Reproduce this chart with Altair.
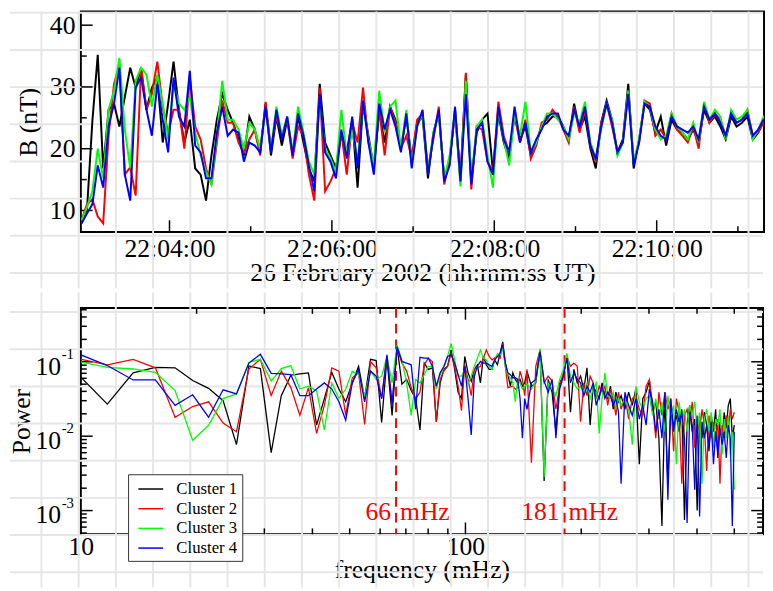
import altair as alt
import pandas as pd

FONT = "Liberation Serif"
GRID = "#e6e6e6"

series_names = ["Cluster 1", "Cluster 2", "Cluster 3", "Cluster 4"]
series_colors = ["#000000", "#ff0000", "#00ff00", "#0000ff"]

# ---------------- top panel: |B| (nT), one sample every 4 s from 22:02:55 UT
t_first = 175   # seconds after 22:00:00
t_step = 4
b_c1 = [8.4, 10.0, 24.4, 35.2, 16.8, 26.3, 27.3, 23.6, 28.4, 33.1, 29.9, 33.1, 26.3, 29.9, 31.5, 21.0, 27.3, 34.1, 26.3, 21.0, 24.7, 16.8, 15.8, 11.6, 18.9, 24.7, 28.9, 26.3, 24.2, 21.5, 18.9, 25.2, 23.1,
        19.4, 27.3, 18.9, 25.2, 20.5, 24.7, 19.4, 25.2, 21.0, 16.8, 14.7, 30.5, 21.0, 18.9, 16.8, 22.6, 19.4, 24.7, 13.7, 27.3, 22.1, 16.8, 26.3, 21.0, 26.8, 24.7, 20.0, 25.2, 18.4, 24.2, 25.2, 15.2,
        22.6, 25.7, 15.2, 17.9, 26.3, 15.2, 32.1, 14.7, 22.6, 24.7, 25.7, 16.3, 25.7, 21.0, 18.4, 25.7, 21.5, 23.6, 18.9, 21.0, 23.6, 24.2, 25.2, 25.2, 23.6, 21.5, 27.3, 23.1, 25.2, 20.0, 16.8, 24.2,
        27.8, 24.7, 19.4, 21.5, 30.5, 16.8, 21.5, 27.3, 26.3, 22.6, 25.2, 20.5, 24.7, 23.1, 22.6, 21.5, 23.1, 21.0, 26.3, 24.2, 25.2, 23.6, 21.5, 25.2, 23.6, 24.2, 25.2, 21.5, 22.6, 24.7, 23.6]
b_c2 = [8.4, 11.0, 11.8, 9.0, 7.9, 22.1, 30.5, 33.6, 15.8, 17.0, 12.4, 33.1, 26.3, 28.9, 34.1, 26.8, 22.6, 26.3, 26.3, 20.0, 31.5, 23.6, 21.5, 16.8, 14.2, 21.0, 27.8, 24.2, 24.2, 21.0, 19.4, 21.5, 23.1,
        18.9, 27.6, 20.0, 25.2, 22.1, 24.7, 18.4, 23.6, 22.1, 15.8, 11.6, 29.9, 13.1, 14.7, 16.8, 22.6, 15.8, 24.2, 21.0, 29.9, 21.0, 17.3, 26.3, 18.9, 26.8, 24.2, 20.0, 22.1, 18.4, 24.7, 25.7, 16.8,
        21.5, 26.8, 14.2, 18.4, 25.7, 14.7, 32.3, 13.4, 23.6, 23.1, 17.9, 16.3, 27.6, 22.1, 19.4, 25.2, 21.0, 24.7, 18.4, 20.5, 24.2, 24.7, 26.3, 25.2, 23.1, 21.0, 26.8, 22.6, 26.3, 20.5, 17.9, 24.2,
        27.3, 23.6, 19.4, 21.0, 29.4, 17.9, 21.0, 27.8, 27.3, 22.1, 23.1, 21.5, 25.7, 23.1, 22.1, 21.0, 23.6, 20.0, 27.3, 24.2, 25.7, 24.7, 22.1, 25.7, 24.2, 24.7, 26.3, 22.1, 22.6, 24.2, 24.7]
b_c3 = [8.4, 10.5, 13.1, 20.0, 15.2, 26.3, 29.4, 34.7, 23.1, 16.8, 31.0, 33.1, 32.0, 26.8, 32.0, 27.3, 21.5, 30.5, 27.3, 26.3, 28.4, 22.6, 18.9, 16.3, 14.2, 22.1, 31.0, 24.7, 24.7, 23.1, 20.0, 24.2, 23.1,
        20.0, 26.3, 20.0, 26.8, 22.1, 25.2, 19.4, 26.8, 22.6, 17.9, 15.8, 27.8, 20.0, 18.4, 16.3, 26.3, 18.9, 23.1, 17.9, 27.3, 21.5, 17.3, 29.4, 22.6, 26.8, 27.8, 20.0, 26.3, 17.3, 23.6, 25.7, 16.3,
        22.6, 25.7, 15.2, 18.9, 26.3, 13.9, 31.0, 15.2, 23.6, 24.7, 18.9, 13.7, 26.3, 21.5, 17.3, 25.7, 22.1, 27.6, 19.4, 21.0, 23.6, 25.7, 25.7, 24.7, 23.6, 21.5, 25.7, 24.2, 27.6, 21.0, 18.4, 23.1,
        27.3, 24.7, 18.9, 21.0, 29.4, 17.9, 21.5, 27.6, 26.8, 23.1, 21.5, 22.1, 25.7, 23.6, 22.6, 21.5, 24.2, 21.0, 27.6, 24.7, 26.3, 25.2, 21.5, 26.3, 24.7, 25.2, 26.3, 21.5, 23.1, 25.2, 24.7]
b_c4 = [7.9, 9.5, 11.0, 17.3, 13.7, 23.6, 27.3, 33.1, 15.8, 11.6, 29.9, 31.5, 26.3, 22.1, 30.5, 24.7, 19.4, 31.5, 25.2, 23.6, 32.6, 20.5, 19.4, 15.2, 15.2, 22.6, 26.8, 22.1, 23.1, 22.6, 17.9, 21.0, 20.5,
        19.4, 26.8, 19.4, 26.3, 21.5, 25.2, 18.9, 25.7, 22.1, 17.3, 13.1, 28.9, 19.4, 17.9, 15.2, 23.1, 18.4, 25.2, 16.8, 27.8, 21.0, 15.8, 27.3, 23.1, 26.3, 23.6, 19.4, 25.7, 16.8, 23.6, 26.3, 15.8,
        22.1, 26.3, 14.7, 17.3, 26.8, 14.7, 28.8, 14.2, 23.1, 24.2, 17.9, 15.8, 26.8, 21.5, 19.4, 26.8, 21.0, 24.2, 19.4, 21.5, 23.1, 25.2, 25.7, 25.7, 23.1, 22.1, 26.3, 23.6, 26.8, 20.5, 18.4, 23.6,
        27.3, 24.2, 19.4, 21.0, 28.9, 17.3, 21.0, 27.3, 26.8, 23.6, 22.1, 21.5, 25.2, 23.6, 23.1, 22.6, 23.6, 21.5, 26.8, 24.7, 25.7, 24.2, 22.1, 25.7, 24.2, 24.7, 25.7, 22.1, 23.1, 24.7, 24.2]

time_tick_values = [240, 360, 480, 600]
time_tick_labels = ["22:04:00", "22:06:00", "22:08:00", "22:10:00"]
time_minor_ticks = [300, 420, 540, 660]
b_tick_values = [10, 20, 30, 40]
b_minor_ticks = [15, 25, 35]

# ---------------- bottom panel: power spectra at FFT bins k * (1000/512) mHz
bin_width = 1000 / 512
bins = list(range(5, 74)) + list(range(74, 131, 2)) + list(range(133, 257, 3))
p_c1 = [0.070, 0.027, 0.071, 0.084, 0.083, 0.056, 0.044, 0.030, 0.0077, 0.088, 0.081, 0.0060, 0.035, 0.066, 0.069, 0.071,
        0.0141, 0.032, 0.072, 0.043, 0.029, 0.052, 0.087, 0.032, 0.108, 0.104, 0.0153, 0.112, 0.019, 0.159, 0.050, 0.058, 0.041, 0.032, 0.0121, 0.096, 0.079, 0.083, 0.0156, 0.052, 0.079, 0.087, 0.144, 0.079, 0.039, 0.032, 0.118, 0.071, 0.055, 0.079, 0.091, 0.052, 0.118, 0.091, 0.079, 0.079, 0.106, 0.091, 0.130, 0.185, 0.096, 0.067, 0.047, 0.071, 0.058, 0.052, 0.058, 0.047, 0.052,
        0.075, 0.047, 0.052, 0.144, 0.0025, 0.058, 0.039, 0.0115, 0.052, 0.064, 0.124, 0.021, 0.079, 0.052, 0.064, 0.043, 0.083, 0.0141, 0.047, 0.039, 0.032, 0.052, 0.035, 0.032, 0.047, 0.023, 0.039, 0.029, 0.035,
        0.023, 0.039, 0.026, 0.043, 0.0042, 0.032, 0.039, 0.055, 0.021, 0.029, 0.0094, 0.00062, 0.032, 0.0023, 0.023, 0.0141, 0.019, 0.0115, 0.023, 0.00075, 0.0141, 0.026, 0.0115, 0.017, 0.0010, 0.019, 0.0094, 0.021, 0.0141, 0.0063, 0.019, 0.0115, 0.023, 0.0051, 0.0156, 0.0094, 0.021, 0.0127, 0.026, 0.032, 0.0094, 0.0141]
p_c2 = [0.111, 0.091, 0.108, 0.083, 0.018, 0.025, 0.029, 0.015, 0.0115, 0.080, 0.108, 0.035, 0.075, 0.045, 0.019, 0.045,
        0.0109, 0.026, 0.083, 0.075, 0.019, 0.061, 0.071, 0.0144, 0.101, 0.083, 0.032, 0.118, 0.029, 0.151, 0.096, 0.075, 0.045, 0.032, 0.039, 0.091, 0.112, 0.101, 0.0156, 0.058, 0.075, 0.087, 0.130, 0.087, 0.047, 0.022, 0.091, 0.058, 0.035, 0.079, 0.083, 0.087, 0.112, 0.144, 0.118, 0.106, 0.112, 0.118, 0.112, 0.176, 0.087, 0.045, 0.046, 0.047, 0.043, 0.045, 0.075, 0.058, 0.035,
        0.079, 0.0044, 0.087, 0.144, 0.052, 0.064, 0.055, 0.023, 0.047, 0.071, 0.118, 0.087, 0.096, 0.087, 0.0156, 0.052, 0.035, 0.064, 0.052, 0.032, 0.047, 0.039, 0.047, 0.026, 0.043, 0.032, 0.019, 0.039, 0.023,
        0.035, 0.017, 0.032, 0.035, 0.023, 0.019, 0.047, 0.058, 0.026, 0.0094, 0.039, 0.019, 0.039, 0.023, 0.032, 0.0063, 0.032, 0.021, 0.0023, 0.019, 0.023, 0.0141, 0.029, 0.0070, 0.017, 0.0115, 0.023, 0.0141, 0.0034, 0.019, 0.0094, 0.0156, 0.0085, 0.017, 0.0023, 0.0141, 0.0094, 0.019, 0.0115, 0.023, 0.017, 0.021]
p_c3 = [0.102, 0.084, 0.080, 0.072, 0.041, 0.0088, 0.014, 0.032, 0.037, 0.098, 0.108, 0.055, 0.081, 0.089, 0.043, 0.047,
        0.041, 0.0121, 0.052, 0.032, 0.043, 0.075, 0.067, 0.035, 0.075, 0.058, 0.064, 0.118, 0.052, 0.168, 0.106, 0.052, 0.019, 0.058, 0.052, 0.067, 0.087, 0.087, 0.043, 0.067, 0.083, 0.118, 0.176, 0.106, 0.064, 0.064, 0.079, 0.050, 0.064, 0.087, 0.112, 0.144, 0.112, 0.106, 0.087, 0.079, 0.106, 0.130, 0.124, 0.151, 0.087, 0.067, 0.061, 0.052, 0.029, 0.058, 0.052, 0.043, 0.047,
        0.050, 0.043, 0.055, 0.151, 0.0028, 0.052, 0.043, 0.035, 0.058, 0.079, 0.130, 0.064, 0.052, 0.043, 0.047, 0.039, 0.052, 0.032, 0.043, 0.052, 0.0109, 0.032, 0.071, 0.035, 0.032, 0.039, 0.023, 0.032, 0.026,
        0.032, 0.023, 0.0077, 0.047, 0.029, 0.023, 0.032, 0.035, 0.019, 0.032, 0.017, 0.029, 0.0115, 0.035, 0.019, 0.026, 0.0042, 0.029, 0.0141, 0.023, 0.0115, 0.026, 0.019, 0.029, 0.0115, 0.021, 0.0023, 0.017, 0.023, 0.0115, 0.021, 0.0070, 0.017, 0.0141, 0.023, 0.0057, 0.017, 0.0094, 0.019, 0.0057, 0.0115, 0.0019]
p_c4 = [0.130, 0.089, 0.057, 0.057, 0.026, 0.036, 0.018, 0.042, 0.037, 0.096, 0.126, 0.070, 0.069, 0.067, 0.035, 0.035,
        0.043, 0.052, 0.043, 0.029, 0.0164, 0.052, 0.079, 0.029, 0.075, 0.064, 0.032, 0.124, 0.026, 0.159, 0.101, 0.096, 0.091, 0.023, 0.115, 0.112, 0.112, 0.087, 0.047, 0.071, 0.087, 0.118, 0.124, 0.096, 0.067, 0.047, 0.087, 0.032, 0.0104, 0.064, 0.087, 0.101, 0.096, 0.096, 0.091, 0.087, 0.106, 0.118, 0.130, 0.168, 0.096, 0.071, 0.067, 0.061, 0.061, 0.058, 0.032, 0.0094, 0.032,
        0.023, 0.052, 0.058, 0.137, 0.055, 0.039, 0.058, 0.0094, 0.043, 0.064, 0.112, 0.052, 0.071, 0.058, 0.052, 0.035, 0.047, 0.039, 0.052, 0.026, 0.035, 0.047, 0.032, 0.039, 0.035, 0.026, 0.032, 0.021, 0.0023,
        0.039, 0.026, 0.019, 0.032, 0.017, 0.026, 0.0141, 0.043, 0.029, 0.0115, 0.023, 0.0094, 0.039, 0.0014, 0.032, 0.0115, 0.023, 0.0156, 0.021, 0.0094, 0.00068, 0.021, 0.0141, 0.0019, 0.019, 0.00083, 0.0156, 0.0094, 0.0141, 0.0070, 0.0156, 0.0042, 0.0115, 0.0057, 0.0127, 0.0077, 0.0115, 0.0051, 0.0141, 0.0094, 0.00062, 0.0115]

freq_tick_values = [10, 100]
power_tick_values = [0.1, 0.01, 0.001]
power_tick_exponents = ["-1", "-2", "-3"]
marker_freqs = [66, 181]
marker_labels = ["66", "181"]
marker_unit = "mHz"

# ---------------- geometry
W1, H1 = 694, 224
W2, H2 = 693, 230
LEFT = 72

top_x = alt.Scale(domain=[174.5, 679.3], nice=False, zero=False)
top_y = alt.Scale(domain=[6.5, 42.2], nice=False, zero=False)
bot_x = alt.Scale(type="log", domain=[10, 593.9], nice=False)
bot_y = alt.Scale(type="log", domain=[0.00048, 0.53], nice=False)
color_scale = alt.Scale(domain=series_names, range=series_colors)

# page background grid (decoration, pixel positions)
grid_x = [40 + 37.8 * m - 80 for m in range(20)]
grid_y_top = [9.25 + 37.75 * j - 8 for j in range(8)]
grid_y_bot = [311.25 + 37.75 * j - 307 for j in range(8)]


def grid_layers(gy, y_from, y_to):
    v = alt.Chart(pd.DataFrame({"gx": grid_x})).mark_rule(color=GRID, strokeWidth=2).encode(
        x=alt.X("gx:Q", scale=None, axis=None), y=alt.value(y_from), y2=alt.value(y_to))
    h = alt.Chart(pd.DataFrame({"gy": gy})).mark_rule(color=GRID, strokeWidth=2).encode(
        y=alt.Y("gy:Q", scale=None, axis=None), x=alt.value(-LEFT), x2=alt.value(693))
    return [v, h]


# ---------------- top panel
top_rows = []
for name, vals in zip(series_names, [b_c1, b_c2, b_c3, b_c4]):
    for i, v in enumerate(vals):
        top_rows.append({"t": t_first + t_step * i, "B": v, "series": name})
top_df = pd.DataFrame(top_rows)

label_expr = "".join(f"datum.value == {v} ? '{l}' : " for v, l in zip(time_tick_values, time_tick_labels)) + "''"

top_lines = alt.Chart(top_df).mark_line(strokeWidth=2, clip=True).encode(
    x=alt.X("t:Q", scale=top_x, axis=alt.Axis(
        values=time_tick_values, labelExpr=label_expr, labelPadding=25, labelBaseline="alphabetic",
        labelFlush=False, title="26 February 2002 (hh:mm:ss UT)", titleY=49,
        titleBaseline="alphabetic")),
    y=alt.Y("B:Q", scale=top_y, axis=alt.Axis(
        values=b_tick_values, labelPadding=6, title="B (nT)", titleX=-45, titleY=H1 / 2,
        titleBaseline="alphabetic")),
    color=alt.Color("series:N", scale=color_scale, legend=None),
)

tick_style = dict(color="black", strokeWidth=1.5)
top_ticks = [
    alt.Chart(pd.DataFrame({"t": time_tick_values})).mark_rule(**tick_style).encode(
        x=alt.X("t:Q", scale=top_x), y=alt.value(H1), y2=alt.value(H1 - 12)),
    alt.Chart(pd.DataFrame({"t": time_minor_ticks})).mark_rule(**tick_style).encode(
        x=alt.X("t:Q", scale=top_x), y=alt.value(H1), y2=alt.value(H1 - 6)),
    alt.Chart(pd.DataFrame({"B": b_tick_values})).mark_rule(**tick_style).encode(
        y=alt.Y("B:Q", scale=top_y), x=alt.value(0), x2=alt.value(12)),
    alt.Chart(pd.DataFrame({"B": b_minor_ticks})).mark_rule(**tick_style).encode(
        y=alt.Y("B:Q", scale=top_y), x=alt.value(0), x2=alt.value(6)),
]

top = alt.layer(*grid_layers(grid_y_top, 0, 281), *top_ticks, top_lines).properties(width=W1, height=H1)

# ---------------- bottom panel
bot_rows = []
for name, vals in zip(series_names, [p_c1, p_c2, p_c3, p_c4]):
    for k, p in zip(bins, vals):
        bot_rows.append({"f": k * bin_width, "P": p, "series": name})
bot_df = pd.DataFrame(bot_rows)

freq_minor = [m * 10 for m in range(2, 10)] + [m * 100 for m in range(2, 6)]
power_minor = [m * d for d in [1e-4, 1e-3, 1e-2, 1e-1] for m in range(2, 10) if 0.00048 < m * d < 0.53]

bot_ticks = []
for vals, ln in [(freq_tick_values, 12), (freq_minor, 6)]:
    src = pd.DataFrame({"f": vals})
    bot_ticks.append(alt.Chart(src).mark_rule(**tick_style).encode(
        x=alt.X("f:Q", scale=bot_x), y=alt.value(H2), y2=alt.value(H2 - ln)))
    bot_ticks.append(alt.Chart(src).mark_rule(**tick_style).encode(
        x=alt.X("f:Q", scale=bot_x), y=alt.value(0), y2=alt.value(ln)))
for vals, ln in [(power_tick_values, 12), (power_minor, 6)]:
    src = pd.DataFrame({"P": vals})
    bot_ticks.append(alt.Chart(src).mark_rule(**tick_style).encode(
        y=alt.Y("P:Q", scale=bot_y), x=alt.value(0), x2=alt.value(ln)))
    bot_ticks.append(alt.Chart(src).mark_rule(**tick_style).encode(
        y=alt.Y("P:Q", scale=bot_y), x=alt.value(W2), x2=alt.value(W2 - ln)))

marker_df = pd.DataFrame({"f": marker_freqs, "lbl": marker_labels, "unit": [marker_unit] * len(marker_freqs)})
dashes = alt.Chart(marker_df).mark_rule(color="#ff0000", strokeWidth=2, strokeDash=[10, 6]).encode(
    x=alt.X("f:Q", scale=bot_x))
marker_num = alt.Chart(marker_df).mark_text(color="#ff0000", font=FONT, fontSize=26, align="right",
                                            baseline="alphabetic", dx=-5).encode(
    x=alt.X("f:Q", scale=bot_x), y=alt.value(215), text="lbl:N")
marker_txt = alt.Chart(marker_df).mark_text(color="#ff0000", font=FONT, fontSize=26, align="left",
                                            baseline="alphabetic", dx=4).encode(
    x=alt.X("f:Q", scale=bot_x), y=alt.value(215), text="unit:N")

ylab_df = pd.DataFrame({"P": power_tick_values, "mant": ["10"] * 3, "expo": power_tick_exponents})
ylab_mant = alt.Chart(ylab_df).mark_text(font=FONT, fontSize=26, align="right", baseline="alphabetic",
                                         dy=13, color="black").encode(
    y=alt.Y("P:Q", scale=bot_y), x=alt.value(-20), text="mant:N")
ylab_expo = alt.Chart(ylab_df).mark_text(font=FONT, fontSize=15, align="right", baseline="alphabetic",
                                         dy=-3, color="black").encode(
    y=alt.Y("P:Q", scale=bot_y), x=alt.value(-7), text="expo:N")

bot_lines = alt.Chart(bot_df).mark_line(strokeWidth=1.3, clip=True).encode(
    x=alt.X("f:Q", scale=bot_x, axis=alt.Axis(
        values=freq_tick_values, format="d", labelPadding=21, labelBaseline="alphabetic",
        labelFlush=False, title="frequency (mHz)", titleY=44, titleBaseline="alphabetic")),
    y=alt.Y("P:Q", scale=bot_y, axis=alt.Axis(
        labels=False, title="Power", titleX=-52, titleY=H2 / 2, titleBaseline="alphabetic")),
    color=alt.Color("series:N", scale=color_scale, legend=alt.Legend(
        orient="none", legendX=48, legendY=169, title=None, symbolType="M-1.4,0H1.4",
        symbolSize=324, symbolStrokeWidth=1.5, symbolOffset=8, labelFont=FONT, labelFontSize=17,
        labelOffset=16, padding=5, rowPadding=2, fillColor="white", strokeColor="#333333",
        labelColor="black")),
)

bottom = alt.layer(*grid_layers(grid_y_bot, -16, 284), *bot_ticks, dashes, bot_lines,
                   marker_num, marker_txt, ylab_mant, ylab_expo).properties(width=W2, height=H2)

chart = alt.vconcat(top, bottom, spacing=0).resolve_scale(
    color="independent").resolve_legend(color="independent").properties(
    padding={"top": -3, "left": 0, "right": 0, "bottom": 0}).configure(
    font=FONT).configure_view(stroke="black", strokeWidth=2).configure_axis(
    labelFont=FONT, titleFont=FONT, labelFontSize=26, titleFontSize=26, titleFontWeight="normal",
    labelColor="black", titleColor="black", grid=False, domain=False, ticks=False, tickSize=0,
    zindex=1)

chart.save("out.html", embed_options={"renderer": "svg", "actions": False})
